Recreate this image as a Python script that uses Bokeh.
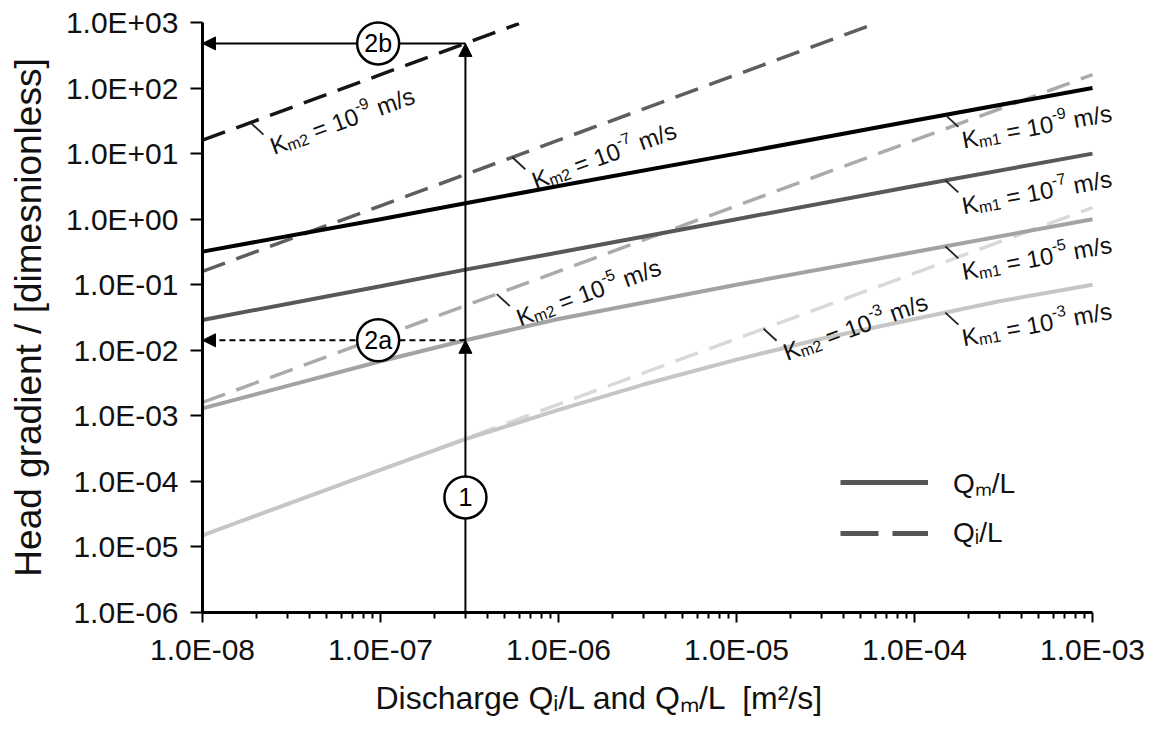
import math
import numpy as np
from bokeh.plotting import figure
from bokeh.models import (FixedTicker, CustomJSTickFormatter, Arrow, NormalHead,
                          Legend, LegendItem, Range1d, Label, Title)
from bokeh.core.properties import value
from bokeh.embed import file_html
from bokeh.resources import INLINE

# ---------------- data ----------------
x_ticks = [1e-8, 1e-7, 1e-6, 1e-5, 1e-4, 1e-3]
x_tick_labels = ["1.0E-08", "1.0E-07", "1.0E-06", "1.0E-05", "1.0E-04", "1.0E-03"]
y_ticks = [1e-6, 1e-5, 1e-4, 1e-3, 1e-2, 1e-1, 1e0, 1e1, 1e2, 1e3]
y_tick_labels = ["1.0E-06", "1.0E-05", "1.0E-04", "1.0E-03", "1.0E-02",
                 "1.0E-01", "1.0E+00", "1.0E+01", "1.0E+02", "1.0E+03"]

# Qm/L (solid) curves
qm_q = [1e-8, 1e-7, 3e-7, 1e-6, 1e-5, 1e-4, 1e-3]
qm_k9 = [0.32, 1.0, 1.75, 3.2, 10, 32, 100]
qm_k7 = [0.029, 0.095, 0.17, 0.31, 1.0, 3.2, 10]
qm_k5 = [1.3e-3, 6.8e-3, 0.0142, 0.030, 0.10, 0.315, 1.0]
qm3_q = [1e-8, 1e-7, 3e-7, 1e-6, 3e-6, 1e-5, 3e-5, 1e-4, 3e-4, 1e-3]
qm_k3 = [1.5e-5, 1.5e-4, 4.4e-4, 1.23e-3, 3.0e-3, 7.2e-3, 0.015, 0.03, 0.056, 0.1]

# Qi/L (dashed) curves
qi9_q = [1e-8, 1e-7, 3e-7, 6e-7]
qi_k9 = [16, 160, 480, 960]
qi7_q = [1e-8, 1e-7, 1e-6, 1e-5, 6e-5]
qi_k7 = [0.16, 1.6, 16, 160, 960]
qi_q = [1e-8, 1e-7, 1e-6, 1e-5, 1e-4, 1e-3]
qi_k5 = [1.6e-3, 0.016, 0.16, 1.6, 16, 160]
qi_k3 = [1.5e-5, 1.5e-4, 1.5e-3, 0.015, 0.15, 1.5]

# curve-label texts: (subscript, exponent)
label_m2 = [("m2", "-9"), ("m2", "-7"), ("m2", "-5"), ("m2", "-3")]
label_m1 = [("m1", "-9"), ("m1", "-7"), ("m1", "-5"), ("m1", "-3")]

# worked example
q_example = 3e-7
i_2a = 0.0142
i_2b = 480
circle_labels = ["2b", "2a", "1"]
circle_x = [9.7e-8, 9.7e-8, 3e-7]
circle_y = [i_2b, i_2a, 5.7e-5]

# ---------------- figure ----------------
FONT = "Liberation Sans"
PX_X = 178.0          # pixels per decade on x
EXTRA = 48            # room right of 1e-3 for the curve labels
FW, FH = int(PX_X * 5 + EXTRA), 590
PX_Y = FH / 9.0
p = figure(width=1153, height=729, x_axis_type="log", y_axis_type="log",
           x_range=Range1d(1e-8, 1e-3 * 10 ** (EXTRA / PX_X)), y_range=Range1d(1e-6, 1e3),
           output_backend="svg", toolbar_location=None)
p.min_border_left = 202
p.min_border_right = 1153 - 202 - FW
p.min_border_top = 22
p.min_border_bottom = 117
p.outline_line_color = None
p.xgrid.visible = False
p.ygrid.visible = False
p.background_fill_color = "white"


def shift(x, y, dx, dy):
    return x * 10 ** (dx / PX_X), y * 10 ** (-dy / PX_Y)


def on_curve(xs, ys, x):
    return 10 ** np.interp(np.log10(x), np.log10(xs), np.log10(ys))


solid = [(qm_q, qm_k9, "#000000"), (qm_q, qm_k7, "#585858"),
         (qm_q, qm_k5, "#a3a3a3"), (qm3_q, qm_k3, "#c6c6c6")]
dashed = [(qi9_q, qi_k9, "#151515"), (qi7_q, qi_k7, "#5e5e5e"),
          (qi_q, qi_k5, "#ababab"), (qi_q, qi_k3, "#d9d9d9")]
for xs, ys, c in dashed[::-1]:
    p.line(xs, ys, line_color=c, line_width=3.5, line_dash="24 12")
for xs, ys, c in solid[::-1]:
    p.line(xs, ys, line_color=c, line_width=4)

# ---- curve labels (rich text built from pieces) with leader lines ----
ARIAL_W = {'K': 667, 'm': 833, '1': 556, '2': 556, ' ': 278, '=': 584, '0': 556,
           '-': 333, '9': 556, '7': 556, '5': 556, '3': 556, '/': 278, 's': 500}


def text_w(s, size):
    return sum(ARIAL_W[c] for c in s) / 1000.0 * size


BIG, SMALL = 24, 16


def rich_label(xe, ye, ang, sub, sup):
    s, c = math.sin(ang), math.cos(ang)
    # baseline-left of the "K" relative to the leader end (screen px)
    bx, by = 0 + 0.905 * BIG * s, -8 + 0.905 * BIG * c
    ax, ay = shift(xe, ye, bx, by)
    # (text, size, baseline shift down, extra space after)
    pieces = [("K", BIG, 0, 0), (sub, SMALL, 5, text_w(" ", BIG)),
              ("= 10", BIG, 0, 0), (sup, SMALL, -9, text_w(" ", BIG)),
              ("m/s", BIG, 0, 0)]
    adv = 0.0
    for txt, size, d, gap in pieces:
        sx = adv * c + d * s
        sy = -adv * s + d * c
        p.add_layout(Label(x=ax, y=ay, x_offset=sx, y_offset=-sy, text=txt, angle=ang,
                           text_font=FONT, text_font_size=f"{size}px",
                           text_color="#111111", text_align="left",
                           text_baseline="alphabetic"))
        adv += text_w(txt, size) + gap


label_specs = [
    (label_m2[0], qi9_q, qi_k9, 1.86e-8, 0.352),
    (label_m2[1], qi7_q, qi_k7, 5.5e-7, 0.352),
    (label_m2[2], qi_q, qi_k5, 4.5e-7, 0.352),
    (label_m2[3], qi_q, qi_k3, 1.42e-5, 0.352),
    (label_m1[0], qm_q, qm_k9, 1.49e-4, 0.182),
    (label_m1[1], qm_q, qm_k7, 1.49e-4, 0.182),
    (label_m1[2], qm_q, qm_k5, 1.49e-4, 0.182),
    (label_m1[3], qm3_q, qm_k3, 1.49e-4, 0.182),
]
x0s, y0s, x1s, y1s = [], [], [], []
for (sub, sup), xs, ys, xa, ang in label_specs:
    ya = on_curve(xs, ys, xa)
    xe, ye = shift(xa, ya, 13, 12)
    x0s.append(xa); y0s.append(ya); x1s.append(xe); y1s.append(ye)
    rich_label(xe, ye, ang, sub, sup)
p.segment(x0s, y0s, x1s, y1s, line_color="#222222", line_width=1.8)

# worked-example arrows
def head():
    return NormalHead(size=13, fill_color="black", line_color="black", line_width=1)

p.add_layout(Arrow(end=head(), x_start=q_example, y_start=1e-6, x_end=q_example, y_end=i_2a,
                   line_width=2, line_color="black"))
p.add_layout(Arrow(end=head(), x_start=q_example, y_start=i_2a, x_end=q_example, y_end=i_2b,
                   line_width=2, line_color="black"))
p.add_layout(Arrow(end=head(), x_start=q_example, y_start=i_2b, x_end=1e-8, y_end=i_2b,
                   line_width=2, line_color="black"))
p.add_layout(Arrow(end=head(), x_start=q_example, y_start=i_2a, x_end=1e-8, y_end=i_2a,
                   line_width=2, line_color="black", line_dash="6 4"))

p.scatter(circle_x, circle_y, size=42, fill_color="white", line_color="black",
          line_width=2.5, level="overlay")
p.text(circle_x, circle_y, text=circle_labels, text_font=value(FONT), text_font_size="25px",
       text_align="center", text_baseline="middle", text_color="black", level="overlay")

# legend: sample lines only (glyphs lie outside the visible ranges)
r_m = p.line([1e-12, 2e-12], [1e-12, 2e-12], line_color="#555555", line_width=5)
r_i = p.line([1e-12, 2e-12], [1e-12, 2e-12], line_color="#555555", line_width=5,
             line_dash="38 14")
legend = Legend(items=[LegendItem(label="Q\u2098/L", renderers=[r_m]),
                       LegendItem(label="Q\u1d62/L", renderers=[r_i])],
                location=(634, 59), glyph_width=88, glyph_height=20,
                label_text_font=FONT, label_text_font_size="28px",
                label_text_color="#111111",
                label_standoff=25, spacing=16, padding=4, margin=0,
                border_line_alpha=0, background_fill_alpha=0)
p.add_layout(legend)

# axes
minor = [k * 10.0 ** e for e in range(-8, -3) for k in range(2, 10)]
p.xaxis.ticker = FixedTicker(ticks=x_ticks, minor_ticks=minor)
p.yaxis.ticker = FixedTicker(ticks=y_ticks, minor_ticks=[])
p.xaxis.bounds = (x_ticks[0], x_ticks[-1])
fmt_code = """
for (let i = 0; i < tvals.length; i++) {
  if (Math.abs(Math.log10(tick) - Math.log10(tvals[i])) < 1e-6) return tlabs[i];
}
return "";
"""
p.xaxis.formatter = CustomJSTickFormatter(args=dict(tvals=x_ticks, tlabs=x_tick_labels), code=fmt_code)
p.yaxis.formatter = CustomJSTickFormatter(args=dict(tvals=y_ticks, tlabs=y_tick_labels), code=fmt_code)

for ax in (p.xaxis[0], p.yaxis[0]):
    ax.axis_line_width = 3
    ax.axis_line_color = "black"
    ax.major_tick_line_width = 2
    ax.major_tick_line_color = "black"
    ax.major_tick_in = 0
    ax.minor_tick_line_width = 2
    ax.minor_tick_line_color = "black"
    ax.minor_tick_out = 6
    ax.minor_tick_in = 0
    ax.major_label_text_font = FONT
    ax.major_label_text_font_size = "30px"
    ax.major_label_text_color = "#111111"
    ax.axis_label_text_font = FONT
    ax.axis_label_text_font_style = "normal"
    ax.axis_label_text_color = "#111111"

p.xaxis.major_tick_out = 10
p.yaxis.major_tick_out = 12
p.yaxis.minor_tick_line_color = None
p.xaxis.major_label_standoff = 10
p.yaxis.major_label_standoff = 12
p.yaxis.axis_label = "Head gradient / [dimesnionless]"
p.yaxis.axis_label_text_font_size = "37px"
p.yaxis.axis_label_standoff = 14

p.add_layout(Title(text="Discharge Q\u1d62/L and Q\u2098/L \u00a0[m\u00b2/s]",
                   align="left", offset=173, standoff=18,
                   text_font=FONT, text_font_size="32px", text_font_style="normal",
                   text_color="#111111"), "below")

open("out.html", "w").write(file_html(p, INLINE))
